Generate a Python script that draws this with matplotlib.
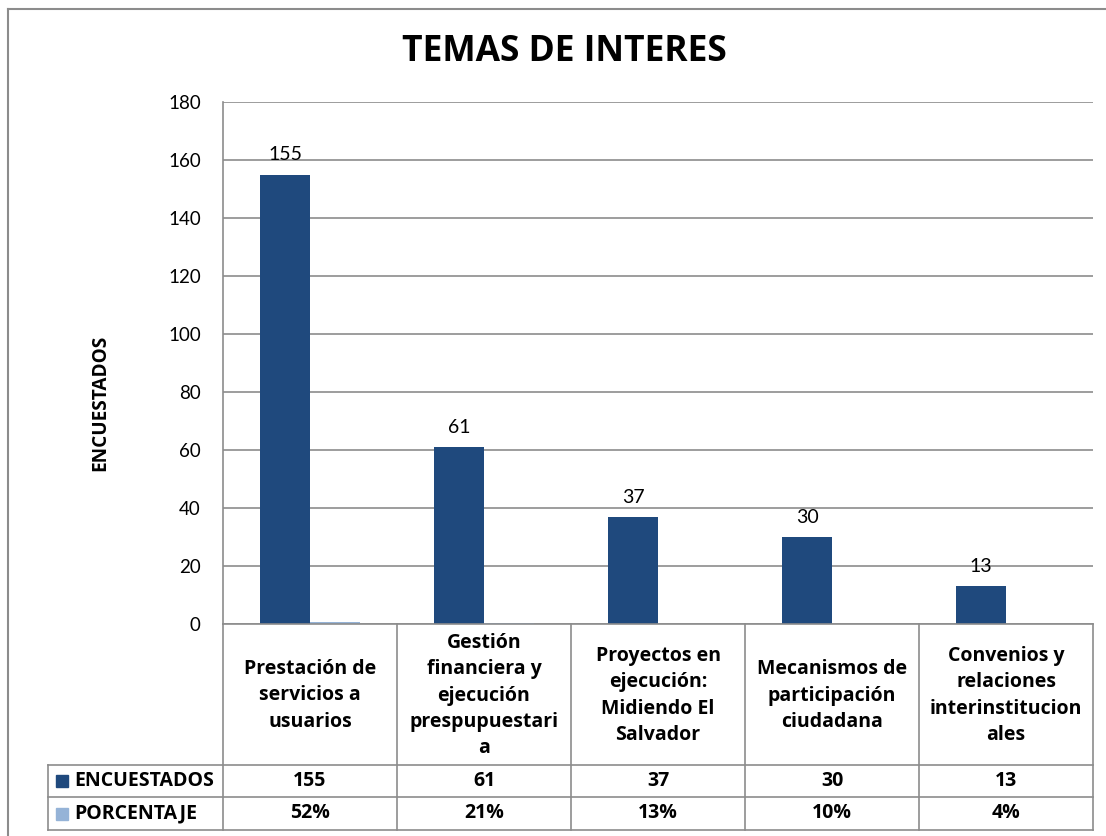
import matplotlib
matplotlib.use("Agg")
import matplotlib.pyplot as plt
from matplotlib.lines import Line2D
from matplotlib.patches import Rectangle
import numpy as np

plt.rcParams['font.family'] = ['Lato', 'DejaVu Sans']
BOLD = ['Open Sans', 'DejaVu Sans']

title = "TEMAS DE INTERES"
categories = [
    "Prestación de\nservicios a\nusuarios",
    "Gestión\nfinanciera y\nejecución\nprespupuestari\na",
    "Proyectos en\nejecución:\nMidiendo El\nSalvador",
    "Mecanismos de\nparticipación\nciudadana",
    "Convenios y\nrelaciones\ninterinstitucion\nales",
]
series_names = ["ENCUESTADOS", "PORCENTAJE"]
encuestados = [155, 61, 37, 30, 13]
porcentaje = [0.52, 0.21, 0.13, 0.10, 0.04]
porcentaje_labels = ["52%", "21%", "13%", "10%", "4%"]
y_ticks = [0, 20, 40, 60, 80, 100, 120, 140, 160, 180]

dark = "#1F497D"
light = "#95B3D7"
gridc = "#8C8C8C"

W, H = 1106, 836
fig = plt.figure(figsize=(W / 100, H / 100), dpi=100)

def fx(px):
    return px / W

def fy(py):
    return 1 - py / H

# plot area in pixels
L, R, T, B = 223, 1093, 102, 624
ax = fig.add_axes([fx(L), fy(B), fx(R - L), (B - T) / H])

n = len(categories)
x = np.arange(n)
bw = 0.287
ax.bar(x - bw / 2, encuestados, width=bw, color=dark, zorder=3)
ax.bar(x + bw / 2, porcentaje, width=bw, color=light, zorder=3)
for xi, v in zip(x, encuestados):
    ax.annotate(str(v), (xi - bw / 2, v), xytext=(0, 8), textcoords="offset points",
                ha="center", va="bottom", fontsize=14, color="black")

ax.set_xlim(-0.5, n - 0.5)
ax.set_ylim(0, 180)
ax.set_yticks(y_ticks)
ax.set_yticklabels([str(t) for t in y_ticks], fontsize=13.5)
ax.tick_params(axis="y", length=0, pad=16)
ax.tick_params(axis="x", length=0, labelbottom=False)
ax.yaxis.grid(True, color=gridc, linewidth=1.2, zorder=0)
ax.set_axisbelow(True)
for s in ["top", "right", "bottom"]:
    ax.spines[s].set_visible(False)
ax.spines["left"].set_color(gridc)
ax.spines["left"].set_linewidth(1.2)
ax.set_xticks([])

fig.text(fx(100), fy(403), "ENCUESTADOS", rotation=90, ha="center", va="center",
         fontsize=13.7, fontweight="bold", family=BOLD)
fig.text(fx(564), fy(52), title, ha="center", va="center", fontsize=25.5,
         fontweight="bold", family=BOLD)

# data table
def hline(y, x0, x1):
    fig.add_artist(Line2D([fx(x0), fx(x1)], [fy(y), fy(y)], color=gridc, linewidth=1.2))

def vline(xp, y0, y1):
    fig.add_artist(Line2D([fx(xp), fx(xp)], [fy(y0), fy(y1)], color=gridc, linewidth=1.2))

colw = (R - L) / n
row_top, row1, row2, row3 = B, 765, 797, 830
lx = 48
hline(row_top, L, R)
hline(row1, lx, R)
hline(row2, lx, R)
hline(row3, lx, R)
for i in range(n + 1):
    vline(L + i * colw, row_top, row3)
vline(lx, row1, row3)

for i, cat in enumerate(categories):
    cx = L + (i + 0.5) * colw
    fig.text(fx(cx), fy((row_top + row1) / 2 + 1), cat, ha="center", va="center",
             fontsize=14, fontweight="bold", linespacing=1.43, family=BOLD)
    fig.text(fx(cx), fy((row1 + row2) / 2), str(encuestados[i]), ha="center", va="center",
             fontsize=14, fontweight="bold", family=BOLD)
    fig.text(fx(cx), fy((row2 + row3) / 2), porcentaje_labels[i], ha="center", va="center",
             fontsize=14, fontweight="bold", family=BOLD)

for (ya, yb), name, c in [((row1, row2), series_names[0], dark), ((row2, row3), series_names[1], light)]:
    ym = (ya + yb) / 2
    fig.add_artist(Rectangle((fx(56), fy(ym + 6)), fx(12), 12 / H, color=c))
    fig.text(fx(74), fy(ym), name, ha="left", va="center", fontsize=14,
             fontweight="bold", family=BOLD)

# outer chart border
fig.add_artist(Line2D([fx(8), fx(8)], [fy(9), fy(H + 5)], color=gridc, linewidth=1.5))
fig.add_artist(Line2D([fx(8), fx(W + 5)], [fy(9), fy(9)], color=gridc, linewidth=1.5))

fig.savefig("out.png", dpi=100)
